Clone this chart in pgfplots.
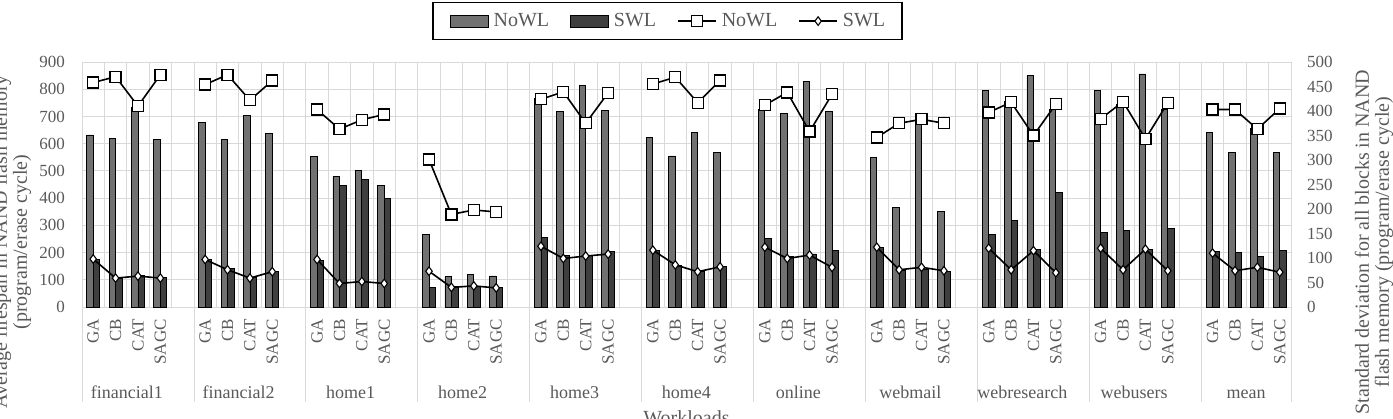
\documentclass[border=0pt]{standalone}
\usepackage{fontspec}
\setmainfont{Liberation Serif}
\usepackage{pgfplots}
\usepackage{pgfplotstable}
\pgfplotsset{compat=1.18}

\definecolor{txtgray}{HTML}{595959}
\definecolor{gridgray}{HTML}{D9D9D9}
\definecolor{nowlfill}{HTML}{717171}
\definecolor{swlfill}{HTML}{3F3F3F}

% x = slot index: 4 schemes per workload, one empty slot between workloads
% nb/sb = average lifespan (bars), nl/sl = standard deviation (lines)
\pgfplotstableread{
x  nb  sb  nl  sl
0  632 175 458 98
1  620 105 470 59
2  735 115 410 63
3  616 108 474 59
4  nan nan nan nan
5  677 175 454 97
6  616 140 474 76
7  703 110 422 59
8  638 130 462 72
9  nan nan nan nan
10 552 172 403 97
11 481 445 363 48
12 503 467 382 52
13 445 399 393 48
14 nan nan nan nan
15 268 71  301 73
16 111 74  189 40
17 118 76  198 43
18 114 72  194 39
19 nan nan nan nan
20 765 256 424 124
21 720 190 439 99
22 813 190 375 104
23 721 203 437 108
24 nan nan nan nan
25 623 208 455 116
26 555 152 469 86
27 642 130 417 72
28 568 148 462 82
29 nan nan nan nan
30 725 252 412 122
31 711 185 438 99
32 828 195 358 106
33 718 209 434 81
34 nan nan nan nan
35 549 218 346 122
36 366 135 375 76
37 693 138 383 81
38 350 132 375 74
39 nan nan nan nan
40 797 267 397 120
41 755 317 418 76
42 850 212 350 115
43 725 420 414 70
44 nan nan nan nan
45 797 273 384 120
46 745 280 419 76
47 856 210 343 118
48 725 289 417 74
49 nan nan nan nan
50 640 205 403 110
51 568 200 403 74
52 655 185 363 81
53 568 207 405 71
}\datatable

\pgfplotsset{
  nowlbar/.style={fill=nowlfill, draw=black, line width=0.8pt},
  swlbar/.style={fill=swlfill, draw=black, line width=0.8pt},
  nowlline/.style={black, line width=1.6pt, mark=square*, mark size=5.5pt,
    mark options={fill=white, draw=black, line width=1.3pt, solid}},
  swlline/.style={black, line width=1.6pt, mark=diamond*, mark size=4.3pt,
    mark options={fill=white, draw=black, line width=1.1pt, solid}},
  barlegend/.style={legend image code/.code={\draw[##1] (0pt,-6pt) rectangle (38pt,6pt);}},
  linelegend/.style={legend image code/.code={\draw[mark repeat=2, mark phase=2, ##1] plot coordinates {(0pt,0pt) (19pt,0pt) (38pt,0pt)};}},
  ticktext/.style={font=\fontsize{17}{17}\selectfont, text=txtgray},
}
\tikzset{
  grouplabel/.style={anchor=base, yshift=-91pt, font=\fontsize{18}{18}\selectfont, text=txtgray},
}

\begin{document}
\begin{tikzpicture}
\path[use as bounding box] (0pt,0pt) rectangle (1393pt,418pt);

% ---------- bars: average lifespan (left axis) ----------
\begin{axis}[
  at={(82pt,111pt)}, anchor=south west,
  scale only axis, width=1209pt, height=245pt,
  xmin=-0.5, xmax=53.5, ymin=0, ymax=900,
  ytick={0,100,...,900},
  ymajorgrids,
  grid style={gridgray, line width=0.8pt},
  minor xtick={-0.5,0.5,...,53.5},
  xminorgrids,
  minor grid style={gridgray, line width=0.8pt},
  xtick={0,1,2,3,5,6,7,8,10,11,12,13,15,16,17,18,20,21,22,23,25,26,27,28,30,31,32,33,35,36,37,38,40,41,42,43,45,46,47,48,50,51,52,53},
  xticklabels={GA,CB,CAT,SAGC,GA,CB,CAT,SAGC,GA,CB,CAT,SAGC,GA,CB,CAT,SAGC,GA,CB,CAT,SAGC,GA,CB,CAT,SAGC,GA,CB,CAT,SAGC,GA,CB,CAT,SAGC,GA,CB,CAT,SAGC,GA,CB,CAT,SAGC,GA,CB,CAT,SAGC},
  major tick length=0pt, minor tick length=0pt,
  axis line style={draw=none},
  tick label style={ticktext},
  xticklabel style={rotate=90, anchor=east, inner sep=0pt},
  xticklabel shift=12pt,
  yticklabel style={anchor=east, inner sep=0pt},
  yticklabel shift=17pt,
  /pgf/number format/assume math mode=true,
  clip=false,
]
\addplot[ybar, bar width=6.5pt, bar shift=-3.25pt, nowlbar] table[x=x, y=nb] {\datatable};
\addplot[ybar, bar width=6.5pt, bar shift=3.25pt, swlbar] table[x=x, y=sb] {\datatable};

% workload separators below the category axis
\pgfplotsinvokeforeach{-0.5,4.5,9.5,14.5,19.5,24.5,29.5,34.5,39.5,44.5,49.5,53.5}{
  \draw[gridgray, line width=0.8pt] (axis cs:#1,0) -- ++(0pt,-95pt);
}
% workload names
\node[grouplabel] at (axis cs:1.5,0) {financial1};
\node[grouplabel] at (axis cs:6.5,0) {financial2};
\node[grouplabel] at (axis cs:11.5,0) {home1};
\node[grouplabel] at (axis cs:16.5,0) {home2};
\node[grouplabel] at (axis cs:21.5,0) {home3};
\node[grouplabel] at (axis cs:26.5,0) {home4};
\node[grouplabel] at (axis cs:31.5,0) {online};
\node[grouplabel] at (axis cs:36.5,0) {webmail};
\node[grouplabel] at (axis cs:41.5,0) {webresearch};
\node[grouplabel] at (axis cs:46.5,0) {webusers};
\node[grouplabel] at (axis cs:51.5,0) {mean};
\end{axis}

% ---------- lines: standard deviation (right axis) ----------
\begin{axis}[
  at={(82pt,111pt)}, anchor=south west,
  scale only axis, width=1209pt, height=245pt,
  xmin=-0.5, xmax=53.5, ymin=0, ymax=500,
  axis x line=none,
  axis y line*=right,
  axis line style={draw=none},
  ytick={0,50,...,500},
  major tick length=0pt,
  tick label style={ticktext},
  yticklabel style={anchor=west, inner sep=0pt},
  yticklabel shift=16pt,
  /pgf/number format/assume math mode=true,
  unbounded coords=jump,
  legend columns=4,
  legend style={
    at={(0.4843,1.245)}, anchor=north,
    draw=black, line width=1.5pt, fill=white,
    inner xsep=17pt, inner ysep=11pt,
    font=\fontsize{20}{20}\selectfont,
    nodes={inner sep=0pt, text=txtgray},
    /tikz/every odd column/.append style={column sep=5pt},
    /tikz/every even column/.append style={column sep=21pt},
  },
]
\addlegendimage{nowlbar, barlegend}
\addlegendentry{NoWL}
\addlegendimage{swlbar, barlegend}
\addlegendentry{SWL}
\addplot[nowlline, linelegend] table[x=x, y=nl] {\datatable};
\addlegendentry{NoWL}
\addplot[swlline, linelegend] table[x=x, y=sl] {\datatable};
\addlegendentry{SWL}
\end{axis}

% axis titles
\node[rotate=90, align=center, font=\fontsize{20}{20}\selectfont, text=txtgray] at (12pt,176pt)
  {Average lifespan in NAND flash memory\\(program/erase cycle)};
\node[rotate=90, align=center, font=\fontsize{20}{20}\selectfont, text=txtgray] at (1374pt,176pt)
  {Standard deviation for all blocks in NAND\\flash memory (program/erase cycle)};
\node[anchor=north, inner sep=0pt, font=\fontsize{20}{20}\selectfont, text=txtgray] at (686.5pt,8pt) {Workloads};
\end{tikzpicture}
\end{document}
